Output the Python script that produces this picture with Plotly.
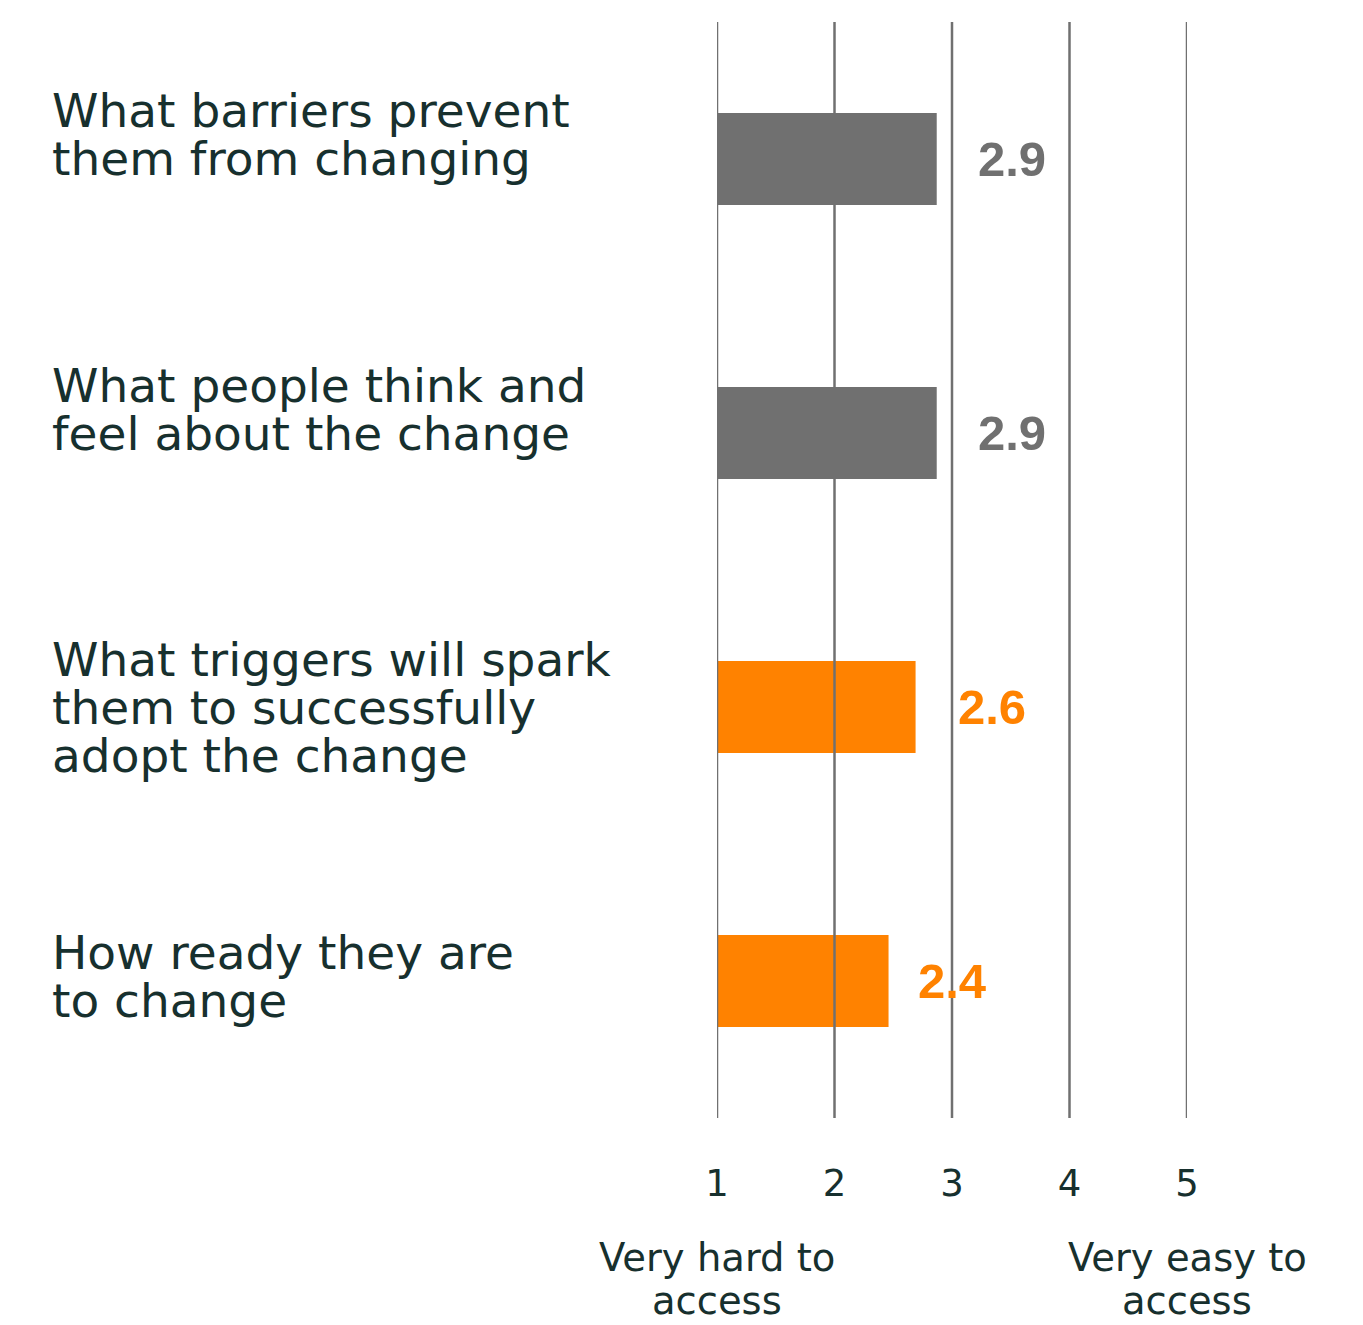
import plotly.graph_objects as go

# ---- data ----
categories = [
    "What barriers prevent<br>them from changing",
    "What people think and<br>feel about the change",
    "What triggers will spark<br>them to successfully<br>adopt the change",
    "How ready they are<br>to change",
]
bar_values = [2.87, 2.87, 2.69, 2.46]
value_labels = ["2.9", "2.9", "2.6", "2.4"]
tick_values = [1, 2, 3, 4, 5]
tick_labels = ["1", "2", "3", "4", "5"]
end_labels = ["Very hard to<br>access", "Very easy to<br>access"]

# ---- style ----
GRAY = "#707070"
ORANGE = "#FF8200"
TEXT = "#17302E"
bar_colors = [GRAY, GRAY, ORANGE, ORANGE]
label_font = "DejaVu Sans"
first_line_offset = [-49, -48, -48, -29]   # px from bar centre to first text line
line_step = 48
label_shift = [39, 39, 40, 27]
PLOT_BOTTOM, PLOT_H = 1118, 1096
title_line_px = [1257, 1300]

fig = go.Figure()
fig.add_trace(go.Bar(
    y=categories, x=[v - 1 for v in bar_values], base=1,
    orientation="h", marker=dict(color=bar_colors, line=dict(width=0)),
    hoverinfo="skip", showlegend=False,
))

annotations = []
for ci, cat in enumerate(categories):
    lines = cat.split("<br>")
    for li, line in enumerate(lines):
        off = first_line_offset[ci] + li * line_step
        annotations.append(dict(
            text=line, xref="paper", x=(50 - 717) / 470, xanchor="left",
            yref="y", y=cat, yanchor="middle", yshift=-off,
            showarrow=False, font=dict(family=label_font, size=47, color=TEXT),
        ))
    annotations.append(dict(
        text="<b>%s</b>" % value_labels[ci], xref="x", x=bar_values[ci],
        xanchor="left", xshift=label_shift[ci], yref="y", y=cat, yanchor="middle",
        showarrow=False,
        font=dict(family="Liberation Sans, Arial", size=49, color=bar_colors[ci]),
    ))

for xv, txt in zip([tick_values[0], tick_values[-1]], end_labels):
    for li, line in enumerate(txt.split("<br>")):
        annotations.append(dict(
            text=line, xref="x", x=xv, xanchor="center", yref="paper",
            y=(PLOT_BOTTOM - title_line_px[li]) / PLOT_H, yanchor="middle",
            showarrow=False,
            font=dict(family=label_font, size=38.5, color=TEXT),
        ))

shapes = [dict(type="line", xref="x", x0=t, x1=t, yref="paper", y0=0, y1=1,
               line=dict(color=GRAY, width=2.5), layer="above")
          for t in tick_values]

fig.update_layout(
    width=1363, height=1325,
    margin=dict(l=717, r=176, t=22, b=207),
    paper_bgcolor="white", plot_bgcolor="white",
    bargap=0.664,
    xaxis=dict(range=[1, 5], tickvals=tick_values, ticktext=tick_labels,
               showgrid=False, zeroline=False, showline=False, ticks="",
               ticklabelstandoff=40,
               tickfont=dict(family=label_font, size=37, color=TEXT)),
    yaxis=dict(categoryorder="array", categoryarray=categories,
               autorange="reversed", showticklabels=False, showgrid=False,
               zeroline=False, showline=False),
    annotations=annotations, shapes=shapes,
)

fig.write_html("out.html")
